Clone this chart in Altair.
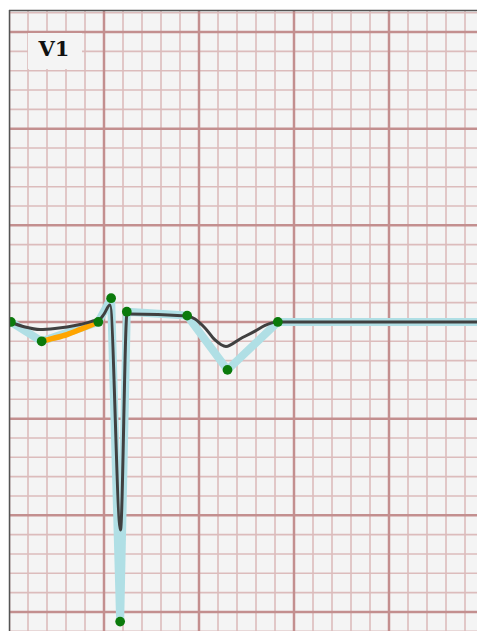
import altair as alt
import pandas as pd
import numpy as np

# Annotated points (time in s, amplitude in mV)
pt_t = [0.004, 0.0688, 0.188, 0.215, 0.234, 0.248, 0.375, 0.460, 0.566, 1.000]
pt_v = [0.0, -0.100, 0.0, 0.123, -1.55, 0.053, 0.033, -0.248, 0.0, 0.0]

# Highlighted segment (orange)
hl_t = [0.0688, 0.0926, 0.122, 0.1495, 0.188]
hl_v = [-0.100, -0.085, -0.065, -0.039, 0.0]

# Filtered signal (dark line)
sig_t = [0.002, 0.0337, 0.0653, 0.0968, 0.122, 0.1495, 0.1768, 0.1916, 0.200, 0.2126,
         0.2347, 0.2484, 0.2526, 0.3747, 0.3916, 0.4126, 0.4337, 0.4568, 0.4863,
         0.5179, 0.539, 0.564, 1.0]
sig_v = [0.0, -0.026, -0.039, -0.034, -0.026, -0.013, 0.005, 0.0155, 0.041, 0.088,
         -1.076, 0.041, 0.041, 0.031, 0.0155, -0.031, -0.093, -0.127, -0.088,
         -0.047, -0.018, 0.0, 0.0]

lead_label = "V1"

W, H = 468, 621
PX_PER_S = 475.0
PX_PER_MV = 193.3
X_DOMAIN = [0.0, W / PX_PER_S]
Y_TOP = 1.614
Y_DOMAIN = [Y_TOP - H / PX_PER_MV, Y_TOP]

minor_x = [round(i * 0.04, 3) for i in range(0, 26) if i % 5 != 0]
major_x = [round(i * 0.04, 3) for i in range(0, 26) if i % 5 == 0]
minor_y = [round(i * 0.1, 2) for i in range(-16, 17) if i % 5 != 0]
major_y = [round(i * 0.1, 2) for i in range(-16, 17) if i % 5 == 0]

xs = alt.Scale(domain=X_DOMAIN, nice=False, zero=False)
ys = alt.Scale(domain=Y_DOMAIN, nice=False, zero=False)

minor_v = alt.Chart(pd.DataFrame({"t": minor_x})).mark_rule(
    color="#dcbcbc", strokeWidth=1.6, clip=True).encode(x=alt.X("t:Q", scale=xs, axis=None))
minor_h = alt.Chart(pd.DataFrame({"v": minor_y})).mark_rule(
    color="#dcbcbc", strokeWidth=1.6, clip=True).encode(y=alt.Y("v:Q", scale=ys, axis=None))
major_v = alt.Chart(pd.DataFrame({"t": major_x})).mark_rule(
    color="#c38f8f", strokeWidth=2.5, clip=True).encode(x=alt.X("t:Q", scale=xs, axis=None))
major_h = alt.Chart(pd.DataFrame({"v": major_y})).mark_rule(
    color="#c38f8f", strokeWidth=2.5, clip=True).encode(y=alt.Y("v:Q", scale=ys, axis=None))

frame = pd.DataFrame({"a": [0]})
top_border = alt.Chart(frame).mark_rule(color="#555555", strokeWidth=1.5).encode(
    x=alt.value(0), x2=alt.value(W), y=alt.value(0.5))
left_border = alt.Chart(frame).mark_rule(color="#555555", strokeWidth=1.5).encode(
    x=alt.value(0.5), y=alt.value(0), y2=alt.value(H))

pts = pd.DataFrame({"t": pt_t, "v": pt_v, "o": list(range(len(pt_t)))})
hl = pd.DataFrame({"t": hl_t, "v": hl_v, "o": list(range(len(hl_t)))})
sig = pd.DataFrame({"t": sig_t, "v": sig_v, "o": list(range(len(sig_t)))})

enc = dict(x=alt.X("t:Q", scale=xs, axis=None),
           y=alt.Y("v:Q", scale=ys, axis=None),
           order="o:Q")

blue = alt.Chart(pts).mark_line(color="#b0dfe5", strokeWidth=8, clip=True,
                                strokeJoin="round", strokeCap="round").encode(**enc)
orange = alt.Chart(hl).mark_line(color="#ffa500", strokeWidth=5.5, clip=True,
                                 interpolate="monotone", strokeCap="round").encode(**enc)
dark = alt.Chart(sig).mark_line(color="#404040", strokeWidth=3, clip=True,
                                interpolate="monotone", strokeJoin="round").encode(**enc)
dots = alt.Chart(pts).mark_point(filled=True, color="#0b7a0b", size=95, clip=True,
                                 opacity=1).encode(
    x=alt.X("t:Q", scale=xs, axis=None), y=alt.Y("v:Q", scale=ys, axis=None))

box = alt.Chart(pd.DataFrame({"l": [lead_label]})).mark_rect(
    color="#f4f4f4").encode(x=alt.value(19), x2=alt.value(73),
                            y=alt.value(23), y2=alt.value(59))
label = alt.Chart(pd.DataFrame({"l": [lead_label]})).mark_text(
    font="DejaVu Serif", fontWeight="bold", fontSize=21, color="#111",
    align="center", baseline="middle").encode(
    x=alt.value(45), y=alt.value(40), text="l:N")

chart = alt.layer(minor_v, minor_h, major_v, major_h, blue, orange, dark, dots,
                  box, label, top_border, left_border).properties(
    width=W, height=H,
    padding={"left": 1, "top": 2, "right": 0, "bottom": 0},
    autosize=alt.AutoSizeParams(type="none"),
    background="white",
).configure_view(fill="#f4f4f4", strokeWidth=0)

chart.save("out.html", embed_options={"renderer": "svg", "actions": False})
